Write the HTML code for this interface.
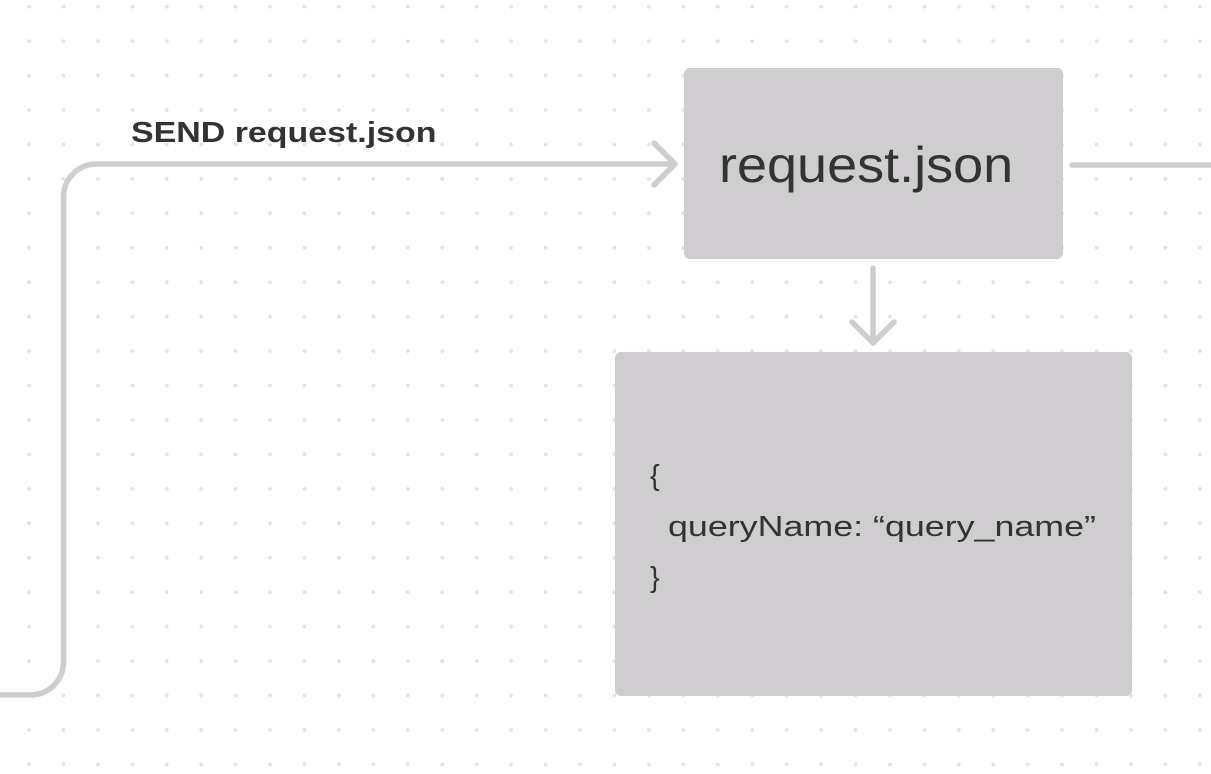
<!DOCTYPE html>
<html><head><meta charset="utf-8"><style>
html,body{margin:0;padding:0;background:#fff;}
body{width:1211px;height:774px;position:relative;overflow:hidden;font-family:"Liberation Sans",sans-serif;
background-image:radial-gradient(circle,#e3e3e5 1.6px,transparent 2.2px);
background-size:34.45px 34.45px;background-position:11.8px -10.5px;}
.box{position:absolute;background:#cfcdcf;border-radius:6px;}
.c{position:absolute;font-size:29px;color:#333;white-space:nowrap;transform-origin:0 0;}
</style></head><body>
<svg width="1211" height="774" style="position:absolute;left:0;top:0" fill="none" stroke="#cfcdce" stroke-width="5.5" stroke-linecap="round" stroke-linejoin="round">
<path d="M-5 695 H30 A33 33 0 0 0 63.5 662 V197 A33 33 0 0 1 96.5 164 H675"/>
<path d="M654 143 L675 164 L654 185"/>
<path d="M1072 165 H1215"/>
<path d="M873 268 V343"/>
<path d="M852 322 L873 343 L894 322"/>
</svg>
<div style="position:absolute;left:131px;top:117px;font-size:29px;font-weight:bold;color:#333;transform:scaleX(1.17);transform-origin:0 0;white-space:nowrap">SEND request.json</div>
<div class="box" style="left:684px;top:68px;width:379px;height:191px"></div>
<div style="position:absolute;left:719px;top:136px;font-size:50px;color:#333;transform:scaleX(1.08);transform-origin:0 0;white-space:nowrap">request.json</div>
<div class="box" style="left:615px;top:352px;width:517px;height:344px"></div>
<div class="c" style="left:650px;top:460px">{</div>
<div class="c" style="left:668px;top:511px;transform:scaleX(1.235)">queryName: “query_name”</div>
<div class="c" style="left:650px;top:562px">}</div>
</body></html>
